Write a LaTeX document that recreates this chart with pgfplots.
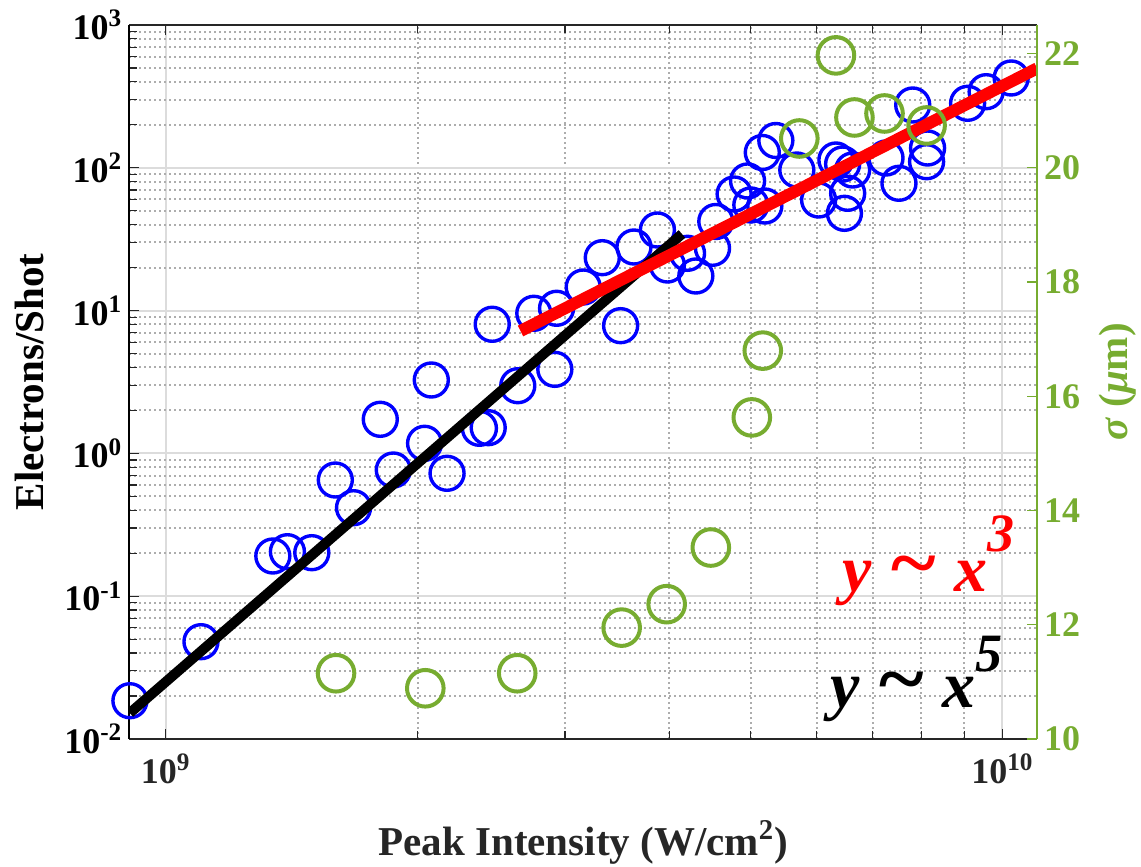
\documentclass[border=0pt]{standalone}
\usepackage{fontspec}
\setmainfont{Liberation Serif}
\usepackage{pgfplots}
\usepackage{pgfplotstable}
\pgfplotsset{compat=1.18}
\definecolor{mgreen}{HTML}{77AC30}
\definecolor{axgray}{HTML}{262626}
\definecolor{majgrid}{HTML}{DCDCDC}
\definecolor{mingrid}{HTML}{ADADAD}

\pgfplotstableread{
x y
9.063e8 0.01854
1.102e9 0.04802
1.343e9 0.1912
1.398e9 0.2049
1.495e9 0.2017
1.595e9 0.6512
1.677e9 0.4166
1.805e9 1.733
1.871e9 0.7652
2.039e9 1.177
2.077e9 3.266
2.169e9 0.7255
2.371e9 1.499
2.429e9 1.514
2.635e9 2.979
2.918e9 3.880
2.456e9 8.022
2.754e9 9.574
2.932e9 10.38
3.497e9 7.843
3.155e9 14.63
3.325e9 23.47
3.628e9 27.88
3.870e9 36.68
3.978e9 20.86
4.204e9 25.19
4.301e9 17.47
4.503e9 27.31
4.544e9 42.07
4.779e9 65.54
4.959e9 80.85
5.004e9 54.9
5.200e9 54.0
5.164e9 128.0
5.360e9 155.3
5.679e9 96.5
6.030e9 59.5
6.324e9 113.4
6.442e9 106.3
6.622e9 96.5
6.532e9 66.3
6.474e9 48.0
7.259e9 117.1
7.523e9 77.9
7.813e9 275.3
8.138e9 137.6
8.116e9 110.3
9.086e9 282.9
9.561e9 341.1
1.0243e10 425.5
}\bluedata

\pgfplotstableread{
x s
1.598e9 11.151
2.043e9 10.888
2.631e9 11.151
3.507e9 11.950
3.970e9 12.360
4.482e9 13.352
5.017e9 15.630
5.171e9 16.799
5.718e9 20.513
6.324e9 21.968
6.655e9 20.881
7.229e9 20.951
8.116e9 20.741
}\greendata

\newcommand\bigtilde{\raisebox{1pt}{\scalebox{1.3}[1.2]{\textasciitilde}}}

\begin{document}
\begin{tikzpicture}
\useasboundingbox (-64.65pt,-64pt) rectangle (505.85pt,369.5pt);
\begin{axis}[
  scale only axis, width=453.85pt, height=357pt,
  xmode=log, ymode=log,
  xmin=9.05e8, xmax=1.1e10, ymin=1e-2, ymax=1e3,
  axis y line*=left,
  clip mode=individual,
  xtick={1e9,1e10},
  xticklabels={10\textsuperscript{9},10\textsuperscript{10}},
  minor xtick={2e9,3e9,4e9,5e9,6e9,7e9,8e9,9e9},
  ytick={1e-2,1e-1,1,10,100,1000},
  yticklabels={10\textsuperscript{-2},10\textsuperscript{-1},10\textsuperscript{0},10\textsuperscript{1},10\textsuperscript{2},10\textsuperscript{3}},
  minor ytick={2e-2,3e-2,4e-2,5e-2,6e-2,7e-2,8e-2,9e-2,
               2e-1,3e-1,4e-1,5e-1,6e-1,7e-1,8e-1,9e-1,
               2,3,4,5,6,7,8,9,20,30,40,50,60,70,80,90,
               200,300,400,500,600,700,800,900},
  xmajorgrids, ymajorgrids, xminorgrids, yminorgrids,
  major grid style={draw=majgrid, line width=1pt},
  minor grid style={draw=mingrid, line width=1pt, dash pattern=on 1pt off 1.5pt},
  tick align=inside,
  major tick length=5pt, minor tick length=4pt,
  tick style={line width=0.6pt, axgray},
  x axis line style={axgray, line width=1pt},
  y axis line style={black, line width=1pt},
  tick label style={font=\fontsize{18}{20}\selectfont\bfseries},
  xticklabel style={text=axgray, yshift=-4pt},
  yticklabel style={text=black},
  xlabel={Peak Intensity (W/cm\textsuperscript{2})},
  ylabel={Electrons/Shot},
  xlabel style={at={(rel axis cs:0.5,-0.1625)}, anchor=base, text=axgray, font=\fontsize{20.5}{22}\selectfont\bfseries},
  ylabel style={at={(rel axis cs:-0.0951,0.5)}, anchor=base, text=black, font=\fontsize{20.5}{22}\selectfont\bfseries},
]
\addplot[only marks, mark=o, mark size=8.5pt, blue, mark options={line width=1.7pt}] table[x=x, y=y] {\bluedata};
\addplot[black, line width=5pt, no marks] coordinates {(9.06e8,0.0152) (4.14e9,34.4)};
\addplot[red, line width=6pt, no marks] coordinates {(2.655e9,7.2) (1.1e10,497)};
\node[anchor=base east, text=red, font=\fontsize{33}{35}\selectfont\bfseries\itshape] at (rel axis cs:0.9824,0.2059) {y \bigtilde{} x\raisebox{20pt}{\fontsize{27}{27}\selectfont 3}};
\node[anchor=base east, text=black, font=\fontsize{33}{35}\selectfont\bfseries\itshape] at (rel axis cs:0.9693,0.0448) {y \bigtilde{} x\raisebox{18pt}{\fontsize{27}{27}\selectfont 5}};
\end{axis}
\begin{axis}[
  scale only axis, width=453.85pt, height=357pt,
  xmode=log, xmin=9.05e8, xmax=1.1e10,
  ymin=10, ymax=22.5,
  axis x line=none, axis y line*=right,
  clip mode=individual,
  ytick={10,12,14,16,18,20,22},
  yticklabels={10,12,14,16,18,20,22},
  tick align=inside, major tick length=5pt,
  tick style={line width=0.6pt, mgreen},
  y axis line style={mgreen, line width=1pt},
  yticklabel style={text=mgreen, font=\fontsize{18}{20}\selectfont\bfseries},
  ylabel={\textit{σ} (\textit{μ}m)},
  ylabel style={at={(rel axis cs:1.0991,0.5)}, anchor=base, text=mgreen, font=\fontsize{20.5}{22}\selectfont\bfseries},
]
\addplot[only marks, mark=o, mark size=9.15pt, mgreen, mark options={line width=2pt}] table[x=x, y=s] {\greendata};
\end{axis}
\end{tikzpicture}
\end{document}
